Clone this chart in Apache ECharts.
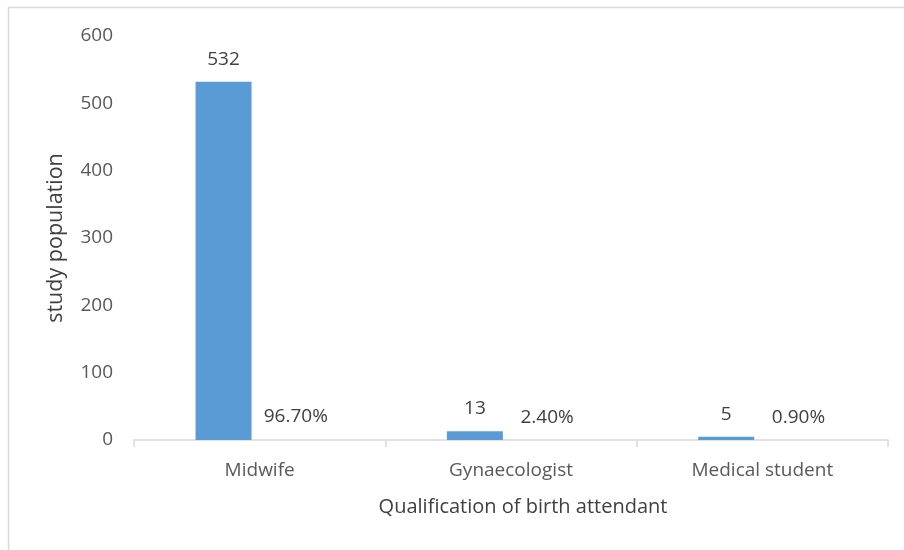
<!DOCTYPE html>
<html>
<head>
<meta charset="utf-8">
<script src="https://cdn.jsdelivr.net/npm/echarts@6/dist/echarts.min.js"></script>
<style>
html,body{margin:0;padding:0;background:#fff;}
#c{width:904px;height:550px;}
</style>
</head>
<body>
<div id="c"></div>
<script>
const categories = ['Midwife', 'Gynaecologist', 'Medical student'];
const counts = [532, 13, 5];
const shares = [0.967, 0.024, 0.009];
const yTicks = [0, 100, 200, 300, 400, 500, 600];

const FONT = 'Open Sans';
const chart = echarts.init(document.getElementById('c'));
chart.setOption({
  animation: false,
  backgroundColor: '#fff',
  textStyle: { fontFamily: FONT },
  graphic: [{
    type: 'rect', silent: true,
    shape: { x: 8.5, y: 7.5, width: 1200, height: 1200 },
    style: { fill: 'none', stroke: '#d9d9d9', lineWidth: 1.5 }
  }],
  grid: { left: 134, right: 16, top: 36, bottom: 110, containLabel: false },
  xAxis: {
    type: 'category',
    data: categories,
    name: 'Qualification of birth attendant',
    nameLocation: 'middle',
    nameGap: 57,
    nameTextStyle: { fontSize: 20, color: '#404040', fontFamily: FONT, padding: [0, 0, 0, 24] },
    axisLine: { lineStyle: { color: '#d9d9d9', width: 1.5 } },
    axisTick: { show: true, length: 7, lineStyle: { color: '#d9d9d9', width: 1.5 } },
    axisLabel: { fontSize: 19, color: '#595959', margin: 21, fontFamily: FONT },
    splitLine: { show: false }
  },
  yAxis: {
    type: 'value',
    min: yTicks[0],
    max: yTicks[yTicks.length - 1],
    interval: yTicks[1] - yTicks[0],
    name: 'study population',
    nameLocation: 'middle',
    nameGap: 67,
    nameTextStyle: { fontSize: 21.5, color: '#404040', fontFamily: FONT },
    axisLine: { show: false },
    axisTick: { show: false },
    axisLabel: { fontSize: 19, color: '#595959', margin: 21, fontFamily: FONT },
    splitLine: { show: false }
  },
  series: [
    {
      type: 'bar',
      data: counts,
      barWidth: 56,
      barGap: '29%',
      itemStyle: { color: '#5b9bd5' },
      label: { show: true, position: 'top', distance: 13, fontSize: 19, color: '#404040', fontFamily: FONT }
    },
    {
      type: 'bar',
      data: shares,
      barWidth: 56,
      barGap: '29%',
      itemStyle: { color: 'rgba(0,0,0,0)' },
      label: {
        show: true, position: 'top', distance: 13, fontSize: 19, color: '#404040', fontFamily: FONT,
        formatter: p => (p.value * 100).toFixed(2) + '%'
      }
    }
  ]
});
</script>
</body>
</html>
